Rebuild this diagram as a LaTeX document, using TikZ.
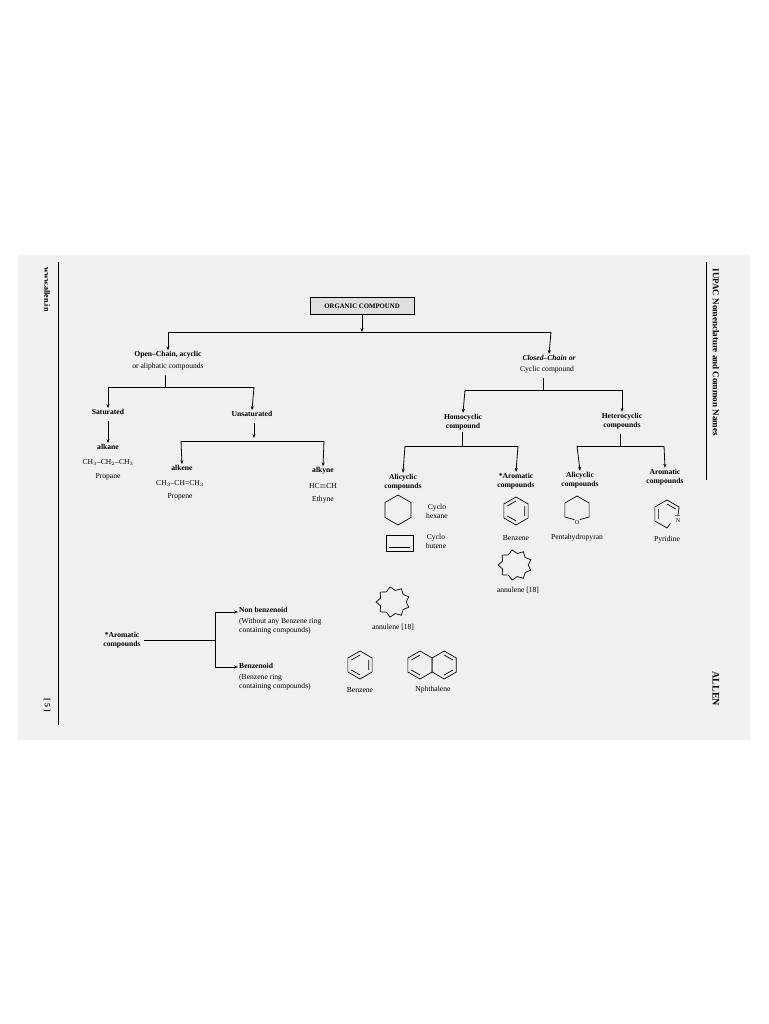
\documentclass[tikz,border=0pt]{standalone}
\usepackage{fontspec}
\setmainfont{Liberation Serif}
\usetikzlibrary{arrows.meta}
\begin{document}
\begin{tikzpicture}[x=1pt,y=-1pt,
  t/.style={font=\fontsize{7.6}{9}\selectfont,align=center,inner sep=1pt},
  tb/.style={t,font=\fontsize{7.6}{9}\selectfont\bfseries},
  tl/.style={t,align=left,anchor=west},
  ln/.style={line width=0.8pt},
  ar/.style={ln,-{Stealth[length=4pt,width=3pt]}},
  ring/.style={line width=0.7pt}]
\useasboundingbox (0,0) rectangle (768,1024);
\fill[white] (0,0) rectangle (768,1024);
\fill[gray!12] (18,255) rectangle (750,740);
\draw[line width=0.6pt] (58,262) -- (58,725);
\draw[line width=0.6pt] (706,262) -- (706,480);
\node[rotate=-90,font=\fontsize{9}{10}\selectfont\bfseries,anchor=west] (hdr) at (716,265) {IUPAC Nomenclature and Common Names};
\node[rotate=-90,font=\fontsize{10}{11}\selectfont\bfseries,anchor=west] (allen) at (716,668) {ALLEN};
\node[rotate=-90,font=\fontsize{8}{9}\selectfont\bfseries,anchor=west] (www) at (47,264) {www.allen.in};
\node[rotate=-90,font=\fontsize{8}{9}\selectfont\bfseries] (pg) at (47,705) {[ 5 ]};

% root
\node[draw,fill=gray!25,font=\fontsize{6.8}{8}\selectfont\bfseries,minimum width=104pt,minimum height=17pt,inner sep=1pt] (root) at (362,306) {ORGANIC COMPOUND};
\coordinate (r1) at (362,332);
\draw[ar] (root.south) -- (r1);
\coordinate (rl) at (168,332); \coordinate (rr) at (551,332);
\node[tb] (open) at (168,355) {Open--Chain, acyclic};
\node[t] (open2) at (168,367) {or aliphatic compounds};
\node[t,font=\fontsize{7.6}{9}\selectfont\bfseries\itshape] (closed) at (549,358) {Closed--Chain or};
\node[t] (closed2) at (547,370) {Cyclic compound};
\draw[ln] (rl) -- (rr);
\draw[ar] (rl) -- (open.north);
\draw[ar] (rr) -- (closed.north);

% open chain
\coordinate (o1) at (165,375); \coordinate (o2) at (165,387);
\coordinate (ol) at (108,387); \coordinate (or) at (254,387);
\node[tb] (sat) at (108,412) {Saturated};
\node[tb] (unsat) at (252,414) {Unsaturated};
\draw[ln] (o1) -- (o2) (ol) -- (or);
\draw[ar] (ol) -- (sat.north);
\draw[ar] (or) -- (unsat.north);
\node[tb] (alkane) at (108,447) {alkane};
\node[t] (alkf) at (108,462) {CH$_3$--CH$_2$--CH$_3$};
\node[t] (alkn) at (108,477) {Propane};
\coordinate (sa1) at (108,421);
\draw[ar] (sa1) -- (alkane.north);
\coordinate (u1) at (181,441); \coordinate (u2) at (324,441);
\coordinate (us1) at (254,423); \coordinate (us2) at (254,438);
\draw[ar] (us1) -- (us2);
\draw[ln] (u1) -- (u2);
\node[tb] (alkene) at (182,468) {alkene};
\node[t] (alkef) at (180,483) {CH$_3$--CH=CH$_3$};
\node[t] (alken) at (180,497) {Propene};
\node[tb] (alkyne) at (323,471) {alkyne};
\node[t] (alkyf) at (323,486) {HC$\equiv$CH};
\node[t] (alkyn) at (323,500) {Ethyne};
\draw[ar] (u1) -- (alkene.north);
\draw[ar] (u2) -- (alkyne.north);

% closed chain
\coordinate (c1) at (543,378); \coordinate (c2) at (543,390);
\coordinate (cl) at (465,390); \coordinate (cr) at (622,390);
\draw[ln] (c1) -- (c2) (cl) -- (cr);
\node[tb] (homo) at (463,422) {Homocyclic\\compound};
\node[tb] (hetero) at (622,421) {Heterocyclic\\compounds};
\draw[ar] (cl) -- (homo.north);
\draw[ar] (cr) -- (hetero.north);
\coordinate (h1) at (462,432); \coordinate (h2) at (462,446);
\coordinate (hl) at (405,446); \coordinate (hr) at (518,446);
\draw[ln] (h1) -- (h2) (hl) -- (hr);
\node[tb] (ali1) at (403,482) {Alicyclic\\compounds};
\node[tb] (aro1) at (516,481) {*Aromatic\\compounds};
\draw[ar] (hl) -- (ali1.north);
\draw[ar] (hr) -- (aro1.north);
\coordinate (e1) at (620,434); \coordinate (e2) at (620,446);
\coordinate (el) at (577,446); \coordinate (er) at (664,446);
\draw[ln] (e1) -- (e2) (el) -- (er);
\node[tb] (ali2) at (580,480) {Alicyclic\\compounds};
\node[tb] (aro2) at (665,477) {Aromatic\\compounds};
\draw[ar] (el) -- (ali2.north);
\draw[ar] (er) -- (aro2.north);

% cyclohexane
\draw[ring] (398,510) +(90:15) -- +(30:15) -- +(-30:15) -- +(-90:15) -- +(-150:15) -- +(150:15) -- cycle;
\node[t] (chx) at (437,511) {Cyclo\\hexane};
% cyclobutene
\draw[ring] (386,535) rectangle (413,551);
\draw[ring] (389,547) -- (410,547);
\node[t] (cbt) at (436,541) {Cyclo\\butene};
% benzene
\draw[ring] (516,511) +(90:14) -- +(30:14) -- +(-30:14) -- +(-90:14) -- +(-150:14) -- +(150:14) -- cycle;
\draw[ring] (516,511) +(30:10) -- +(-30:10) +(-90:10) -- +(-150:10) +(150:10) -- +(90:10);
\node[t] (bz) at (516,538) {Benzene};
% pentahydropyran (O at bottom vertex)
\draw[ring] (577,510) +(75:10) -- +(30:14) -- +(-30:14) -- +(-90:14) -- +(-150:14) -- +(150:14) -- +(105:10);
\node[font=\fontsize{6}{7}\selectfont,inner sep=0] (ox) at (577,523) {O};
\node[t] (phn) at (577,538) {Pentahydropyran};
% pyridine (N at lower right vertex)
\draw[ring] (667,514) +(12:11) -- +(-30:14) -- +(-90:14) -- +(-150:14) -- +(150:14) -- +(90:14) -- +(70:10);
\draw[ring] (667,514) +(-30:10) -- +(-90:10) +(-150:10) -- +(150:10);
\node[font=\fontsize{6}{7}\selectfont,inner sep=0] (nx) at (678,521) {N};
\fill (676,515.5) circle (0.7) (679,515.5) circle (0.7);
\node[t] (pyr) at (667,540) {Pyridine};
% annulenes
\draw[ring] plot[samples at={0,...,18}] ({515+(15-1.8*cos(180*\x))*cos(20*\x)},{565+(13.5-1.8*cos(180*\x))*sin(20*\x)});
\draw[ring] plot[samples at={0,...,18}] ({393+(15-1.8*cos(180*\x))*cos(20*\x)},{602+(13.5-1.8*cos(180*\x))*sin(20*\x)});
\node[t] (an1) at (518,590) {annulene [18]};
\node[t] (an2) at (393,627) {annulene [18]};

% bottom
\node[tb] (aro3) at (122,640) {*Aromatic\\compounds};
\coordinate (b0) at (215,640);
\coordinate (bt) at (215,612); \coordinate (bb) at (215,667);
\draw[ln] (aro3.east) ++(2,0) -- (b0);
\draw[ln] (bt) -- (bb);
\node[tl,font=\fontsize{7.6}{9}\selectfont\bfseries] (nb) at (238,610) {Non benzenoid};
\node[tl,align=left] (nb2) at (238,626) {(Without any Benzene ring\\containing compounds)};
\node[tl,font=\fontsize{7.6}{9}\selectfont\bfseries] (bzd) at (238,666) {Benzenoid};
\node[tl,align=left] (bzd2) at (238,682) {(Benzene ring\\containing compounds)};
\draw[ar] (bt) -- (bt -| nb.west);
\draw[ar] (bb) -- (bb -| bzd.west);
% benzene 2
\draw[ring] (360,665) +(90:14) -- +(30:14) -- +(-30:14) -- +(-90:14) -- +(-150:14) -- +(150:14) -- cycle;
\draw[ring] (360,665) +(30:10) -- +(-30:10) +(-90:10) -- +(-150:10) +(150:10) -- +(90:10);
\node[t] (bz2) at (360,690) {Benzene};
% naphthalene
\draw[ring] (420,665) +(90:14) -- +(30:14) -- +(-30:14) -- +(-90:14) -- +(-150:14) -- +(150:14) -- cycle;
\draw[ring] (444.2,665) +(90:14) -- +(30:14) -- +(-30:14) -- +(-90:14) -- +(-150:14) -- +(150:14) -- cycle;
\draw[ring] (420,665) +(-90:10) -- +(-150:10) +(150:10) -- +(90:10);
\draw[ring] (444.2,665) +(90:10) -- +(30:10) +(-30:10) -- +(-90:10);
\node[t] (nph) at (433,690) {Nphthalene};
\end{tikzpicture}
\end{document}
